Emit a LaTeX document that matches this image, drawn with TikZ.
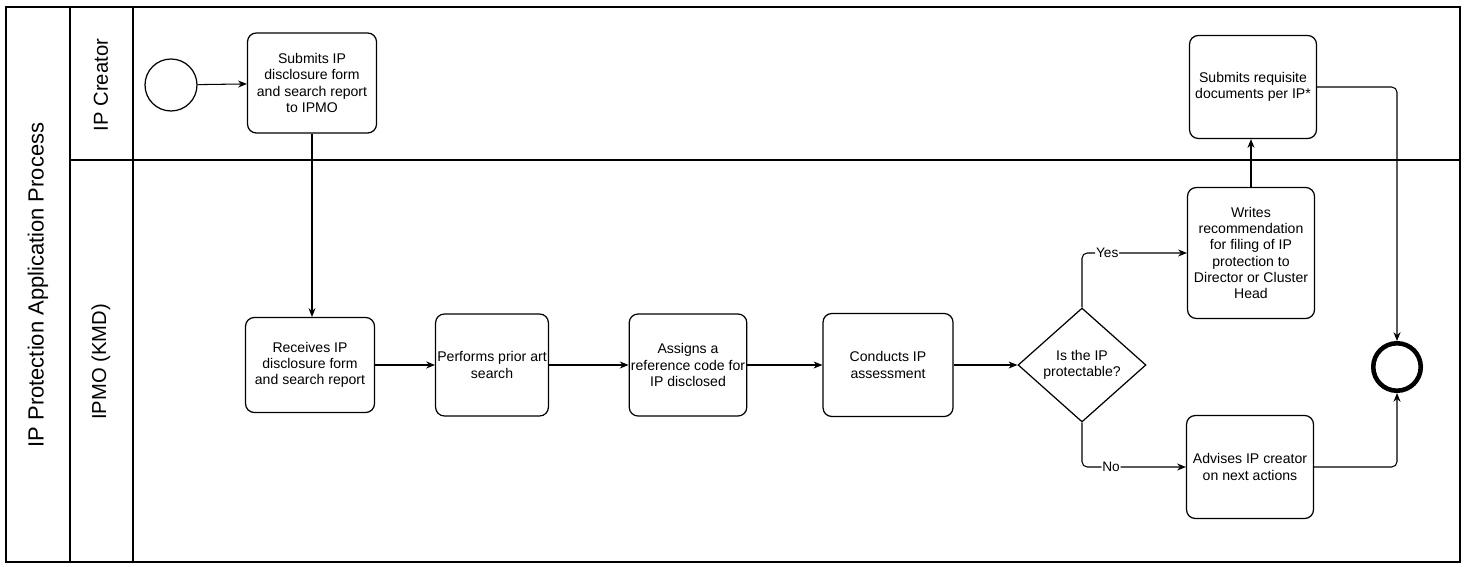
\documentclass[tikz,border=0pt]{standalone}
\usepackage{fontspec}
\setmainfont{Liberation Sans}
\usetikzlibrary{shapes.geometric,arrows.meta}
\tikzset{
  task/.style={draw,rounded corners=5pt,line width=0.7pt,align=center,
    font=\fontsize{8}{9.3}\selectfont,inner sep=1pt},
  gate/.style={draw,diamond,line width=0.7pt,align=center,
    font=\fontsize{8}{9.3}\selectfont,inner sep=0pt,
    minimum width=2.56cm,minimum height=2.28cm},
  flow/.style={-{Stealth[length=5pt,width=4pt]},line width=0.6pt,rounded corners=3pt},
  lane/.style={rotate=90,font=\fontsize{11.5}{13}\selectfont},
  tag/.style={fill=white,inner sep=0.5pt,font=\fontsize{7.8}{9}\selectfont}
}
\begin{document}
\begin{tikzpicture}[x=0.02cm,y=-0.02cm]
\useasboundingbox (0,0) rectangle (1464,567);
\draw[line width=0.8pt]
      (6,7) rectangle (1460,562)
      (70,7) -- (70,562)
      (133,7) -- (133,562)
      (70,160) -- (1460,160);
\path
      (38,285)  node [lane,font=\fontsize{12.5}{14}\selectfont] {IP Protection Application Process}
      (101,85)  node [lane] {IP Creator}
      (101,362) node [lane] {IPMO (KMD)};

\node [draw,circle,line width=0.7pt,minimum size=1.04cm] (start) at (171,85) {};
\node [task,minimum width=2.58cm,minimum height=2cm] (submit) at (312,83)
      {Submits IP\\disclosure form\\and search report\\to IPMO};
\node [task,minimum width=2.58cm,minimum height=1.9cm] (receive) at (310,365)
      {Receives IP\\disclosure form\\and search report};
\node [task,minimum width=2.2cm,minimum height=2.04cm] (prior) at (492,365)
      {Performs prior art\\search};
\node [task,minimum width=2.2cm,minimum height=2.04cm] (assign) at (688,365)
      {Assigns a\\reference code for\\IP disclosed};
\node [task,minimum width=2.6cm,minimum height=2.06cm] (assess) at (888,365)
      {Conducts IP\\assessment};
\node [gate] (protect) at (1082,365) {Is the IP\\protectable?};
\node [task,minimum width=2.54cm,minimum height=2.62cm] (recommend) at (1251,253)
      {Writes\\recommendation\\for filing of IP\\protection to\\Director or Cluster\\Head};
\node [task,minimum width=2.54cm,minimum height=2.06cm] (requisite) at (1253,87)
      {Submits requisite\\documents per IP*};
\node [task,minimum width=2.54cm,minimum height=2.06cm] (advise) at (1250,467)
      {Advises IP creator\\on next actions};
\node [draw,circle,line width=2.6pt,minimum size=0.95cm] (finish) at (1397,367) {};

\draw[flow] (start) -- (submit);
\draw[flow] (submit.south) -- (submit.south |- receive.north);
\draw[flow] (receive) -- (prior);
\draw[flow] (prior) -- (assign);
\draw[flow] (assign) -- (assess);
\draw[flow] (assess) -- (protect);
\draw[flow] (protect.north) |- node [tag,pos=.62] {Yes} (recommend.west);
\draw[flow] (protect.south) |- node [tag,pos=.64] {No} (advise.west);
\draw[flow] (recommend.north) -- (recommend.north |- requisite.south);
\draw[flow] (requisite.east) -| (finish.north);
\draw[flow] (advise.east) -| (finish.south);
\end{tikzpicture}
\end{document}
